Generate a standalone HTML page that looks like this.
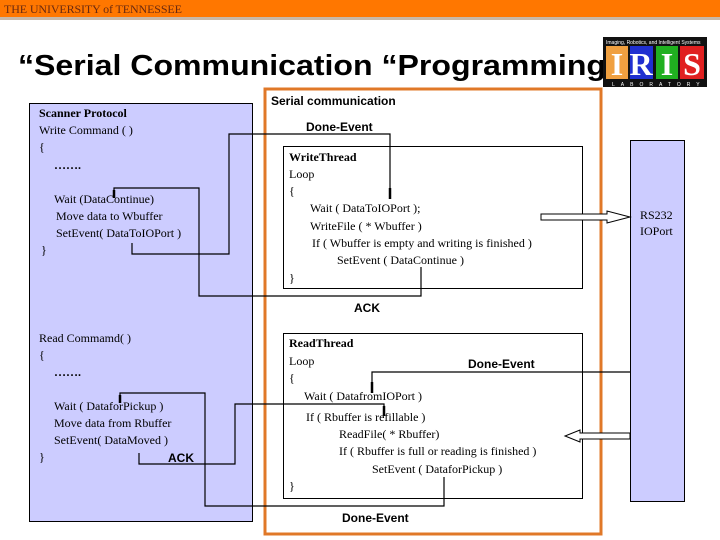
<!DOCTYPE html>
<html><head><meta charset="utf-8"><style>
html,body{margin:0;padding:0;background:#fff;}
body{width:720px;height:540px;overflow:hidden;position:relative;}
svg{position:absolute;left:0;top:0;}
.s{font-family:"Liberation Serif",serif;font-size:12px;fill:#000;}
.b{font-family:"Liberation Sans",sans-serif;font-size:12px;font-weight:bold;fill:#000;}
</style></head><body>
<svg width="720" height="540" viewBox="0 0 720 540">
<rect x="0" y="0" width="720" height="17" fill="#ff7700"/>
<rect x="0" y="17" width="720" height="3" fill="#c8b8a8"/>
<text x="4" y="13" font-family="Liberation Serif,serif" font-size="12" fill="#6a2a10" textLength="178">THE UNIVERSITY of TENNESSEE</text>
<text x="18" y="75" font-family="Liberation Sans,sans-serif" font-size="29" font-weight="bold" fill="#000" textLength="588" lengthAdjust="spacingAndGlyphs">“Serial Communication “Programming</text>
<!-- logo -->
<rect x="603" y="37" width="104" height="50" fill="#111"/>
<text x="606" y="44" font-family="Liberation Sans,sans-serif" font-size="5" fill="#fff">Imaging, Robotics, and Intelligent Systems</text>
<rect x="606" y="46" width="22" height="33" fill="#f0a040"/>
<rect x="630" y="46" width="23" height="33" fill="#2030d0"/>
<rect x="656" y="46" width="22" height="33" fill="#20b020"/>
<rect x="680" y="46" width="24" height="33" fill="#e02020"/>
<text x="617" y="75" text-anchor="middle" font-family="Liberation Serif,serif" font-size="32" font-weight="bold" fill="#fff">I</text>
<text x="641" y="75" text-anchor="middle" font-family="Liberation Serif,serif" font-size="32" font-weight="bold" fill="#fff">R</text>
<text x="667" y="75" text-anchor="middle" font-family="Liberation Serif,serif" font-size="32" font-weight="bold" fill="#fff">I</text>
<text x="692" y="75" text-anchor="middle" font-family="Liberation Serif,serif" font-size="32" font-weight="bold" fill="#fff">S</text>
<text x="612" y="86" font-family="Liberation Sans,sans-serif" font-size="5" fill="#fff" letter-spacing="6">LABORATORY</text>

<rect x="29.5" y="103.5" width="223" height="418" fill="#ccccff" stroke="#000" stroke-width="1"/>
<rect x="265" y="89" width="336" height="445" fill="#fff" stroke="#e07828" stroke-width="3"/>
<rect x="283.5" y="146.5" width="299" height="142" fill="#fff" stroke="#000"/>
<rect x="283.5" y="333.5" width="299" height="165" fill="#fff" stroke="#000"/>
<rect x="630.5" y="140.5" width="54" height="361" fill="#ccccff" stroke="#000"/>

<text class="b" x="271" y="105" font-size="13">Serial communication</text>
<text class="b" x="306" y="131">Done-Event</text>
<text class="b" x="354" y="312">ACK</text>
<text class="b" x="468" y="368">Done-Event</text>
<text class="b" x="342" y="522">Done-Event</text>
<text class="b" x="168" y="462">ACK</text>

<text class="s" x="39" y="117" font-weight="bold">Scanner Protocol</text>
<text class="s" x="39" y="134">Write Command ( )</text>
<text class="s" x="39" y="151">{</text>
<text class="s" x="54" y="169" font-weight="bold">…….</text>
<text class="s" x="54" y="203">Wait (DataContinue)</text>
<text class="s" x="56" y="220">Move data to Wbuffer</text>
<text class="s" x="56" y="237">SetEvent( DataToIOPort  )</text>
<text class="s" x="41" y="254">}</text>

<text class="s" x="39" y="342">Read Commamd( )</text>
<text class="s" x="39" y="359">{</text>
<text class="s" x="54" y="376" font-weight="bold">…….</text>
<text class="s" x="54" y="410">Wait (  DataforPickup )</text>
<text class="s" x="54" y="427">Move data from Rbuffer</text>
<text class="s" x="54" y="444">SetEvent( DataMoved  )</text>
<text class="s" x="39" y="461">}</text>

<text class="s" x="289" y="161" font-weight="bold">WriteThread</text>
<text class="s" x="289" y="178">Loop</text>
<text class="s" x="289" y="195">{</text>
<text class="s" x="310" y="212">Wait (  DataToIOPort );</text>
<text class="s" x="310" y="230">WriteFile ( * Wbuffer )</text>
<text class="s" x="312" y="247">If (  Wbuffer is empty and writing is finished  )</text>
<text class="s" x="337" y="264">SetEvent ( DataContinue )</text>
<text class="s" x="289" y="282">}</text>

<text class="s" x="289" y="347" font-weight="bold">ReadThread</text>
<text class="s" x="289" y="365">Loop</text>
<text class="s" x="289" y="382">{</text>
<text class="s" x="304" y="400">Wait (  DatafromIOPort )</text>
<text class="s" x="306" y="421">If ( Rbuffer is refillable )</text>
<text class="s" x="339" y="438">ReadFile( * Rbuffer)</text>
<text class="s" x="339" y="455">If ( Rbuffer is full or  reading is finished )</text>
<text class="s" x="372" y="473">SetEvent ( DataforPickup )</text>
<text class="s" x="289" y="490">}</text>

<text class="s" x="640" y="219">RS232</text>
<text class="s" x="640" y="235">IOPort</text>

<g fill="none" stroke="#000" stroke-width="1.2">
<polyline points="132,243 132,254 229,254 229,134 390,134 390,198"/>
<polyline points="421,267 421,296 199,296 199,188 114,188 114,197"/>
<polyline points="139,453 139,464 235,464 235,404 384,404 384,415"/>
<polyline points="444,477 444,506 205,506 205,393 120,393 120,402"/>
<polyline points="630,372 372,372 372,392"/>
</g>
<g stroke="#000" stroke-width="2.5">
<line x1="390" y1="188" x2="390" y2="199"/>
<line x1="114" y1="190" x2="114" y2="198"/>
<line x1="384" y1="406" x2="384" y2="416"/>
<line x1="120" y1="395" x2="120" y2="403"/>
<line x1="372" y1="382" x2="372" y2="393"/>
</g>
<polygon points="541,214 607,214 607,211 630,217 607,223 607,220 541,220" fill="#fff" stroke="#000"/>
<polygon points="630,433 580,433 580,430 565,436 580,442 580,439 630,439" fill="#fff" stroke="#000"/>
</svg>
</body></html>
